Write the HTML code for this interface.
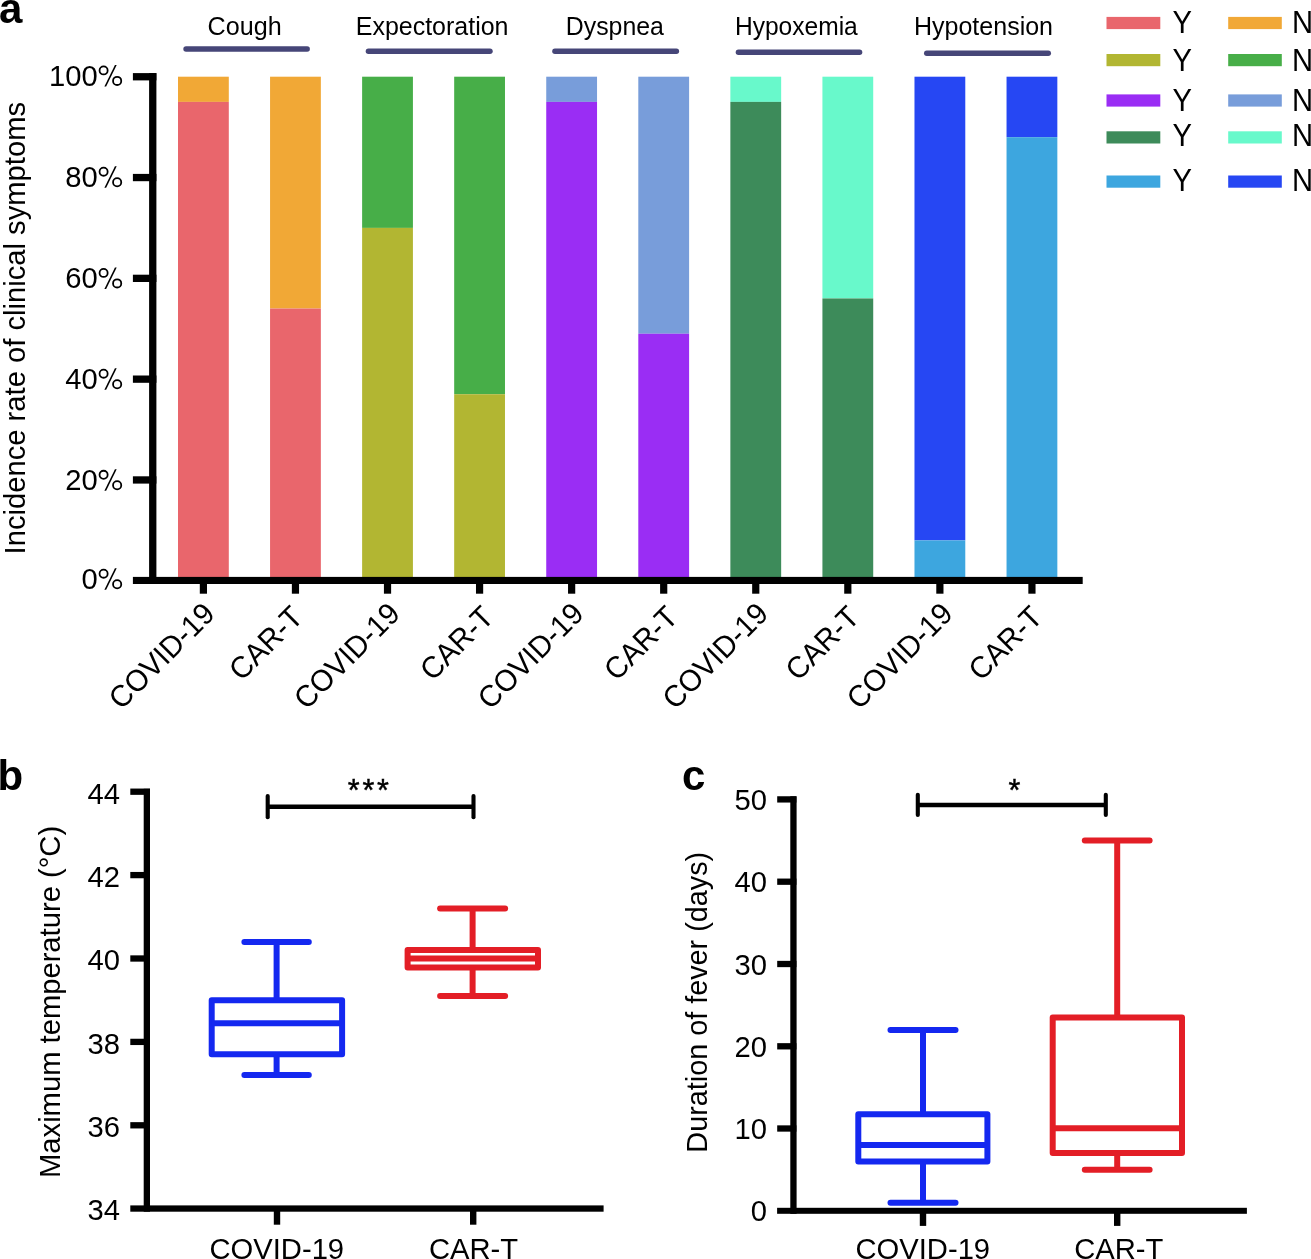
<!DOCTYPE html>
<html><head><meta charset="utf-8"><style>
html,body{margin:0;padding:0;background:#fff;width:1311px;height:1259px;overflow:hidden}
svg{display:block;will-change:transform}
text{font-family:"Liberation Sans", sans-serif}
</style></head><body>
<svg width="1311" height="1259" viewBox="0 0 1311 1259">
<rect width="1311" height="1259" fill="#fff"/>
<rect x="178.00" y="76.70" width="50.80" height="25.20" fill="#F1A836"/>
<rect x="178.00" y="101.90" width="50.80" height="478.80" fill="#E9666C"/>
<rect x="270.06" y="76.70" width="50.80" height="231.84" fill="#F1A836"/>
<rect x="270.06" y="308.54" width="50.80" height="272.16" fill="#E9666C"/>
<rect x="362.12" y="76.70" width="50.80" height="151.20" fill="#47AE48"/>
<rect x="362.12" y="227.90" width="50.80" height="352.80" fill="#B2B632"/>
<rect x="454.18" y="76.70" width="50.80" height="317.52" fill="#47AE48"/>
<rect x="454.18" y="394.22" width="50.80" height="186.48" fill="#B2B632"/>
<rect x="546.24" y="76.70" width="50.80" height="25.20" fill="#789DDA"/>
<rect x="546.24" y="101.90" width="50.80" height="478.80" fill="#9A2DF4"/>
<rect x="638.30" y="76.70" width="50.80" height="257.04" fill="#789DDA"/>
<rect x="638.30" y="333.74" width="50.80" height="246.96" fill="#9A2DF4"/>
<rect x="730.36" y="76.70" width="50.80" height="25.20" fill="#68F9CB"/>
<rect x="730.36" y="101.90" width="50.80" height="478.80" fill="#3D8B5A"/>
<rect x="822.42" y="76.70" width="50.80" height="221.76" fill="#68F9CB"/>
<rect x="822.42" y="298.46" width="50.80" height="282.24" fill="#3D8B5A"/>
<rect x="914.48" y="76.70" width="50.80" height="463.68" fill="#2647F3"/>
<rect x="914.48" y="540.38" width="50.80" height="40.32" fill="#3DA6DF"/>
<rect x="1006.54" y="76.70" width="50.80" height="60.48" fill="#2647F3"/>
<rect x="1006.54" y="137.18" width="50.80" height="443.52" fill="#3DA6DF"/>
<rect x="149.10" y="73.10" width="7.30" height="510.90" fill="#000"/>
<rect x="132.90" y="73.10" width="23.50" height="7.30" fill="#000"/>
<rect x="132.90" y="173.90" width="23.50" height="7.30" fill="#000"/>
<rect x="132.90" y="274.70" width="23.50" height="7.30" fill="#000"/>
<rect x="132.90" y="375.50" width="23.50" height="7.30" fill="#000"/>
<rect x="132.90" y="476.30" width="23.50" height="7.30" fill="#000"/>
<rect x="132.90" y="576.90" width="949.80" height="7.10" fill="#000"/>
<rect x="199.80" y="580.00" width="7.20" height="13.70" fill="#000"/>
<rect x="291.86" y="580.00" width="7.20" height="13.70" fill="#000"/>
<rect x="383.92" y="580.00" width="7.20" height="13.70" fill="#000"/>
<rect x="475.98" y="580.00" width="7.20" height="13.70" fill="#000"/>
<rect x="568.04" y="580.00" width="7.20" height="13.70" fill="#000"/>
<rect x="660.10" y="580.00" width="7.20" height="13.70" fill="#000"/>
<rect x="752.16" y="580.00" width="7.20" height="13.70" fill="#000"/>
<rect x="844.22" y="580.00" width="7.20" height="13.70" fill="#000"/>
<rect x="936.28" y="580.00" width="7.20" height="13.70" fill="#000"/>
<rect x="1028.34" y="580.00" width="7.20" height="13.70" fill="#000"/>
<text transform="translate(97.74,85.90) scale(1,1.04)" font-size="29.2" text-anchor="end" font-weight="normal" fill="#000">100</text>
<circle cx="103.60" cy="70.40" r="4.05" fill="none" stroke="#000" stroke-width="1.8"/>
<circle cx="117.15" cy="80.90" r="4.1" fill="none" stroke="#000" stroke-width="1.8"/>
<polygon points="114.95,64.90 116.70,64.90 106.15,86.45 104.40,86.45" fill="#000"/>
<text transform="translate(97.74,187.20) scale(1,1.04)" font-size="29.2" text-anchor="end" font-weight="normal" fill="#000">80</text>
<circle cx="103.60" cy="171.70" r="4.05" fill="none" stroke="#000" stroke-width="1.8"/>
<circle cx="117.15" cy="182.20" r="4.1" fill="none" stroke="#000" stroke-width="1.8"/>
<polygon points="114.95,166.20 116.70,166.20 106.15,187.75 104.40,187.75" fill="#000"/>
<text transform="translate(97.74,288.40) scale(1,1.04)" font-size="29.2" text-anchor="end" font-weight="normal" fill="#000">60</text>
<circle cx="103.60" cy="272.90" r="4.05" fill="none" stroke="#000" stroke-width="1.8"/>
<circle cx="117.15" cy="283.40" r="4.1" fill="none" stroke="#000" stroke-width="1.8"/>
<polygon points="114.95,267.40 116.70,267.40 106.15,288.95 104.40,288.95" fill="#000"/>
<text transform="translate(97.74,389.20) scale(1,1.04)" font-size="29.2" text-anchor="end" font-weight="normal" fill="#000">40</text>
<circle cx="103.60" cy="373.70" r="4.05" fill="none" stroke="#000" stroke-width="1.8"/>
<circle cx="117.15" cy="384.20" r="4.1" fill="none" stroke="#000" stroke-width="1.8"/>
<polygon points="114.95,368.20 116.70,368.20 106.15,389.75 104.40,389.75" fill="#000"/>
<text transform="translate(97.74,490.30) scale(1,1.04)" font-size="29.2" text-anchor="end" font-weight="normal" fill="#000">20</text>
<circle cx="103.60" cy="474.80" r="4.05" fill="none" stroke="#000" stroke-width="1.8"/>
<circle cx="117.15" cy="485.30" r="4.1" fill="none" stroke="#000" stroke-width="1.8"/>
<polygon points="114.95,469.30 116.70,469.30 106.15,490.85 104.40,490.85" fill="#000"/>
<text transform="translate(97.74,589.20) scale(1,1.04)" font-size="29.2" text-anchor="end" font-weight="normal" fill="#000">0</text>
<circle cx="103.60" cy="573.70" r="4.05" fill="none" stroke="#000" stroke-width="1.8"/>
<circle cx="117.15" cy="584.20" r="4.1" fill="none" stroke="#000" stroke-width="1.8"/>
<polygon points="114.95,568.20 116.70,568.20 106.15,589.75 104.40,589.75" fill="#000"/>
<text transform="translate(25.30,554.39) rotate(-90) scale(1,1.04)" font-size="29.2" text-anchor="start" font-weight="normal" fill="#000">Incidence rate of clinical symptoms</text>
<text transform="translate(207.52,35.1) scale(1,1.04)" font-size="25.15" textLength="74.11" lengthAdjust="spacingAndGlyphs">Cough</text>
<line x1="186.05" y1="49.00" x2="307.15" y2="49.00" stroke="#464678" stroke-width="5.5" stroke-linecap="round"/>
<text transform="translate(355.75,35.1) scale(1,1.04)" font-size="25.15" textLength="152.77" lengthAdjust="spacingAndGlyphs">Expectoration</text>
<line x1="368.45" y1="51.20" x2="489.95" y2="51.20" stroke="#464678" stroke-width="5.5" stroke-linecap="round"/>
<text transform="translate(565.76,35.1) scale(1,1.04)" font-size="25.15" textLength="98.14" lengthAdjust="spacingAndGlyphs">Dyspnea</text>
<line x1="554.95" y1="51.20" x2="676.35" y2="51.20" stroke="#464678" stroke-width="5.5" stroke-linecap="round"/>
<text transform="translate(734.88,35.1) scale(1,1.04)" font-size="25.15" textLength="122.92" lengthAdjust="spacingAndGlyphs">Hypoxemia</text>
<line x1="738.45" y1="52.30" x2="859.55" y2="52.30" stroke="#464678" stroke-width="5.5" stroke-linecap="round"/>
<text transform="translate(913.95,35.1) scale(1,1.04)" font-size="25.15" textLength="139.08" lengthAdjust="spacingAndGlyphs">Hypotension</text>
<line x1="926.75" y1="53.30" x2="1048.25" y2="53.30" stroke="#464678" stroke-width="5.5" stroke-linecap="round"/>
<text transform="translate(216.40,615.50) rotate(-45) scale(1,1.04)" font-size="29.2" text-anchor="end" font-weight="normal" fill="#000">COVID-19</text>
<text transform="translate(304.56,618.90) rotate(-45) scale(1,1.04)" font-size="29.2" text-anchor="end" font-weight="normal" fill="#000">CAR-T</text>
<text transform="translate(401.62,615.50) rotate(-45) scale(1,1.04)" font-size="29.2" text-anchor="end" font-weight="normal" fill="#000">COVID-19</text>
<text transform="translate(495.48,618.90) rotate(-45) scale(1,1.04)" font-size="29.2" text-anchor="end" font-weight="normal" fill="#000">CAR-T</text>
<text transform="translate(585.44,615.50) rotate(-45) scale(1,1.04)" font-size="29.2" text-anchor="end" font-weight="normal" fill="#000">COVID-19</text>
<text transform="translate(679.60,618.90) rotate(-45) scale(1,1.04)" font-size="29.2" text-anchor="end" font-weight="normal" fill="#000">CAR-T</text>
<text transform="translate(770.06,615.50) rotate(-45) scale(1,1.04)" font-size="29.2" text-anchor="end" font-weight="normal" fill="#000">COVID-19</text>
<text transform="translate(861.02,618.90) rotate(-45) scale(1,1.04)" font-size="29.2" text-anchor="end" font-weight="normal" fill="#000">CAR-T</text>
<text transform="translate(954.38,615.50) rotate(-45) scale(1,1.04)" font-size="29.2" text-anchor="end" font-weight="normal" fill="#000">COVID-19</text>
<text transform="translate(1044.14,618.90) rotate(-45) scale(1,1.04)" font-size="29.2" text-anchor="end" font-weight="normal" fill="#000">CAR-T</text>
<rect x="1106.50" y="16.90" width="53.80" height="12.20" fill="#E9666C"/>
<rect x="1228.20" y="16.90" width="53.60" height="12.20" fill="#F1A836"/>
<text transform="translate(1172.46,32.60) scale(1,1.06)" font-size="29.2" text-anchor="start" font-weight="normal" fill="#000">Y</text>
<text transform="translate(1291.96,32.60) scale(1,1.06)" font-size="29.2" text-anchor="start" font-weight="normal" fill="#000">N</text>
<rect x="1106.50" y="54.00" width="53.80" height="12.20" fill="#B2B632"/>
<rect x="1228.20" y="54.00" width="53.60" height="12.20" fill="#47AE48"/>
<text transform="translate(1172.46,70.60) scale(1,1.06)" font-size="29.2" text-anchor="start" font-weight="normal" fill="#000">Y</text>
<text transform="translate(1291.96,70.60) scale(1,1.06)" font-size="29.2" text-anchor="start" font-weight="normal" fill="#000">N</text>
<rect x="1106.50" y="94.40" width="53.80" height="12.20" fill="#9A2DF4"/>
<rect x="1228.20" y="94.40" width="53.60" height="12.20" fill="#789DDA"/>
<text transform="translate(1172.46,110.50) scale(1,1.06)" font-size="29.2" text-anchor="start" font-weight="normal" fill="#000">Y</text>
<text transform="translate(1291.96,110.50) scale(1,1.06)" font-size="29.2" text-anchor="start" font-weight="normal" fill="#000">N</text>
<rect x="1106.50" y="131.30" width="53.80" height="12.20" fill="#3D8B5A"/>
<rect x="1228.20" y="131.30" width="53.60" height="12.20" fill="#68F9CB"/>
<text transform="translate(1172.46,146.40) scale(1,1.06)" font-size="29.2" text-anchor="start" font-weight="normal" fill="#000">Y</text>
<text transform="translate(1291.96,146.40) scale(1,1.06)" font-size="29.2" text-anchor="start" font-weight="normal" fill="#000">N</text>
<rect x="1106.50" y="175.50" width="53.80" height="12.20" fill="#3DA6DF"/>
<rect x="1228.20" y="175.50" width="53.60" height="12.20" fill="#2647F3"/>
<text transform="translate(1172.46,191.40) scale(1,1.06)" font-size="29.2" text-anchor="start" font-weight="normal" fill="#000">Y</text>
<text transform="translate(1291.96,191.40) scale(1,1.06)" font-size="29.2" text-anchor="start" font-weight="normal" fill="#000">N</text>
<text transform="translate(-1.00,23.00)" font-size="42" text-anchor="start" font-weight="bold" fill="#000">a</text>
<text transform="translate(-2.50,789.60)" font-size="42" text-anchor="start" font-weight="bold" fill="#000">b</text>
<text transform="translate(682.00,789.60)" font-size="42" text-anchor="start" font-weight="bold" fill="#000">c</text>
<rect x="143.70" y="788.80" width="6.30" height="422.90" fill="#000"/>
<rect x="130.30" y="788.55" width="19.70" height="6.30" fill="#000"/>
<rect x="130.30" y="871.95" width="19.70" height="6.30" fill="#000"/>
<rect x="130.30" y="955.35" width="19.70" height="6.30" fill="#000"/>
<rect x="130.30" y="1038.75" width="19.70" height="6.30" fill="#000"/>
<rect x="130.30" y="1122.15" width="19.70" height="6.30" fill="#000"/>
<rect x="130.30" y="1205.40" width="473.30" height="6.30" fill="#000"/>
<rect x="273.80" y="1208.00" width="6.40" height="16.70" fill="#000"/>
<rect x="470.00" y="1208.00" width="6.40" height="16.70" fill="#000"/>
<text transform="translate(120.00,803.50) scale(1,1.04)" font-size="29.2" text-anchor="end" font-weight="normal" fill="#000">44</text>
<text transform="translate(120.00,886.90) scale(1,1.04)" font-size="29.2" text-anchor="end" font-weight="normal" fill="#000">42</text>
<text transform="translate(120.00,970.30) scale(1,1.04)" font-size="29.2" text-anchor="end" font-weight="normal" fill="#000">40</text>
<text transform="translate(120.00,1053.70) scale(1,1.04)" font-size="29.2" text-anchor="end" font-weight="normal" fill="#000">38</text>
<text transform="translate(120.00,1137.10) scale(1,1.04)" font-size="29.2" text-anchor="end" font-weight="normal" fill="#000">36</text>
<text transform="translate(120.00,1220.30) scale(1,1.04)" font-size="29.2" text-anchor="end" font-weight="normal" fill="#000">34</text>
<text transform="translate(60.00,1177.99) rotate(-90) scale(1,1.04)" font-size="29.2" text-anchor="start" font-weight="normal" fill="#000">Maximum temperature (°C)</text>
<text transform="translate(276.80,1259.00) scale(1,1.04)" font-size="29.2" text-anchor="middle" font-weight="normal" fill="#000">COVID-19</text>
<text transform="translate(473.50,1259.00) scale(1,1.04)" font-size="29.2" text-anchor="middle" font-weight="normal" fill="#000">CAR-T</text>
<g fill="none" stroke="#1428F0" stroke-width="6.0" stroke-linecap="round" stroke-linejoin="round"><rect x="211.70" y="1000.30" width="130.40" height="53.90"/><line x1="211.70" y1="1023.20" x2="342.10" y2="1023.20" stroke-linecap="butt"/><line x1="276.60" y1="942.10" x2="276.60" y2="1000.30" stroke-linecap="butt"/><line x1="276.60" y1="1054.20" x2="276.60" y2="1075.10" stroke-linecap="butt"/><line x1="244.40" y1="942.10" x2="308.80" y2="942.10"/><line x1="244.40" y1="1075.10" x2="308.80" y2="1075.10"/></g>
<g fill="none" stroke="#E31E26" stroke-width="6.0" stroke-linecap="round" stroke-linejoin="round"><rect x="407.60" y="950.10" width="130.40" height="17.30"/><line x1="407.60" y1="958.50" x2="538.00" y2="958.50" stroke-linecap="butt"/><line x1="472.60" y1="908.50" x2="472.60" y2="950.10" stroke-linecap="butt"/><line x1="472.60" y1="967.40" x2="472.60" y2="996.00" stroke-linecap="butt"/><line x1="440.10" y1="908.50" x2="505.10" y2="908.50"/><line x1="440.10" y1="996.00" x2="505.10" y2="996.00"/></g>
<line x1="267.70" y1="806.70" x2="473.50" y2="806.70" stroke="#000" stroke-width="4.6" stroke-linecap="butt"/>
<line x1="267.70" y1="796.00" x2="267.70" y2="817.20" stroke="#000" stroke-width="4.1" stroke-linecap="round"/>
<line x1="473.50" y1="796.00" x2="473.50" y2="817.20" stroke="#000" stroke-width="4.1" stroke-linecap="round"/>
<text transform="translate(347.7,801.0)" font-size="30.5" letter-spacing="2.84" stroke="#000" stroke-width="0.45" fill="#000">***</text>
<rect x="790.30" y="796.30" width="6.30" height="417.50" fill="#000"/>
<rect x="777.20" y="796.25" width="19.20" height="6.30" fill="#000"/>
<rect x="777.20" y="878.55" width="19.20" height="6.30" fill="#000"/>
<rect x="777.20" y="960.85" width="19.20" height="6.30" fill="#000"/>
<rect x="777.20" y="1043.15" width="19.20" height="6.30" fill="#000"/>
<rect x="777.20" y="1125.35" width="19.20" height="6.30" fill="#000"/>
<rect x="777.10" y="1207.80" width="469.80" height="6.00" fill="#000"/>
<rect x="919.80" y="1210.00" width="6.40" height="15.90" fill="#000"/>
<rect x="1114.00" y="1210.00" width="6.40" height="15.90" fill="#000"/>
<text transform="translate(767.00,809.90) scale(1,1.04)" font-size="29.2" text-anchor="end" font-weight="normal" fill="#000">50</text>
<text transform="translate(767.00,892.20) scale(1,1.04)" font-size="29.2" text-anchor="end" font-weight="normal" fill="#000">40</text>
<text transform="translate(767.00,974.50) scale(1,1.04)" font-size="29.2" text-anchor="end" font-weight="normal" fill="#000">30</text>
<text transform="translate(767.00,1056.80) scale(1,1.04)" font-size="29.2" text-anchor="end" font-weight="normal" fill="#000">20</text>
<text transform="translate(767.00,1139.00) scale(1,1.04)" font-size="29.2" text-anchor="end" font-weight="normal" fill="#000">10</text>
<text transform="translate(767.00,1221.30) scale(1,1.04)" font-size="29.2" text-anchor="end" font-weight="normal" fill="#000">0</text>
<text transform="translate(707.00,1152.66) rotate(-90) scale(1,1.04)" font-size="28.8" text-anchor="start" font-weight="normal" fill="#000">Duration of fever (days)</text>
<text transform="translate(922.80,1259.00) scale(1,1.04)" font-size="29.2" text-anchor="middle" font-weight="normal" fill="#000">COVID-19</text>
<text transform="translate(1118.70,1259.00) scale(1,1.04)" font-size="29.2" text-anchor="middle" font-weight="normal" fill="#000">CAR-T</text>
<g fill="none" stroke="#1428F0" stroke-width="6.0" stroke-linecap="round" stroke-linejoin="round"><rect x="858.30" y="1114.30" width="129.10" height="47.10"/><line x1="858.30" y1="1145.10" x2="987.40" y2="1145.10" stroke-linecap="butt"/><line x1="923.00" y1="1029.90" x2="923.00" y2="1114.30" stroke-linecap="butt"/><line x1="923.00" y1="1161.40" x2="923.00" y2="1202.70" stroke-linecap="butt"/><line x1="890.50" y1="1029.90" x2="955.50" y2="1029.90"/><line x1="890.50" y1="1202.70" x2="955.50" y2="1202.70"/></g>
<g fill="none" stroke="#E31E26" stroke-width="6.0" stroke-linecap="round" stroke-linejoin="round"><rect x="1052.70" y="1017.40" width="129.30" height="135.60"/><line x1="1052.70" y1="1128.30" x2="1182.00" y2="1128.30" stroke-linecap="butt"/><line x1="1117.20" y1="840.50" x2="1117.20" y2="1017.40" stroke-linecap="butt"/><line x1="1117.20" y1="1153.00" x2="1117.20" y2="1169.70" stroke-linecap="butt"/><line x1="1084.80" y1="840.50" x2="1149.60" y2="840.50"/><line x1="1084.80" y1="1169.70" x2="1149.60" y2="1169.70"/></g>
<line x1="917.80" y1="805.00" x2="1105.80" y2="805.00" stroke="#000" stroke-width="4.6" stroke-linecap="butt"/>
<line x1="917.80" y1="794.70" x2="917.80" y2="815.00" stroke="#000" stroke-width="4.1" stroke-linecap="round"/>
<line x1="1105.80" y1="794.70" x2="1105.80" y2="815.00" stroke="#000" stroke-width="4.1" stroke-linecap="round"/>
<text transform="translate(1008.4,801.2)" font-size="30.5" stroke="#000" stroke-width="0.45" fill="#000">*</text>
</svg>
</body></html>
